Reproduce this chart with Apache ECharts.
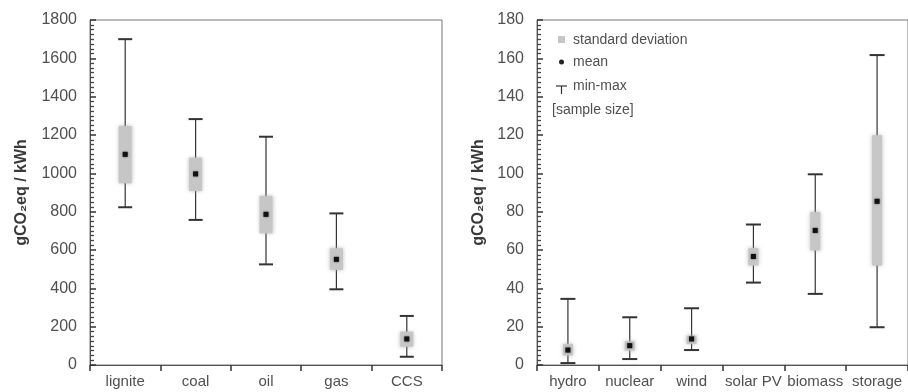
<!DOCTYPE html>
<html>
<head>
    <meta charset="utf-8">
    <title>Life cycle emissions</title>
    <script src="https://cdn.jsdelivr.net/npm/echarts@6/dist/echarts.min.js"></script>
</head>
<body style="margin:0;">
    <main id="main" style="height: 392px; width: 908px;"></main>
    <script>
        // fossil (left panel)
        var fossilCats = ['lignite', 'coal', 'oil', 'gas', 'CCS'];
        var fossilMin = [823, 757, 525, 395, 43];
        var fossilMax = [1700, 1283, 1191, 791, 256];
        var fossilSdLow = [948, 908, 687, 496, 96];
        var fossilSdHigh = [1247, 1082, 882, 609, 174];
        var fossilMean = [1099, 997, 786, 551, 136];

        // low carbon (right panel)
        var lowCats = ['hydro', 'nuclear', 'wind', 'solar PV', 'biomass', 'storage'];
        var lowMin = [1, 3.1, 7.8, 43, 37.1, 19.7];
        var lowMax = [34.5, 24.9, 29.6, 73.3, 99.5, 161.7];
        var lowSdLow = [5, 7.5, 11, 52, 59.8, 51.9];
        var lowSdHigh = [11, 12.4, 15.3, 61, 79.8, 119.9];
        var lowMean = [7.8, 10.1, 13.6, 56.6, 70.2, 85.4];

        var FONT = 'Liberation Sans, Arial, sans-serif';
        var AXIS_COLOR = '#555';
        var LABEL_COLOR = '#505050';

        function rows(cats, mn, mx, lo, hi, mean) {
            return cats.map(function (c, i) {
                return [i, mn[i], mx[i], lo[i], hi[i], mean[i]];
            });
        }

        function makeRender(capW, boxW) {
            return function (params, api) {
                var idx = api.value(0);
                var x = api.coord([idx, 0])[0];
                var yMin = api.coord([idx, api.value(1)])[1];
                var yMax = api.coord([idx, api.value(2)])[1];
                var yLo = api.coord([idx, api.value(3)])[1];
                var yHi = api.coord([idx, api.value(4)])[1];
                var yMean = api.coord([idx, api.value(5)])[1];
                var lineStyle = { stroke: '#333', lineWidth: 1.2 };
                var capStyle = { stroke: '#333', lineWidth: 2 };
                return {
                    type: 'group',
                    children: [
                        { type: 'line', shape: { x1: x, y1: yMin, x2: x, y2: yMax }, style: lineStyle },
                        { type: 'line', shape: { x1: x - capW / 2, y1: yMax, x2: x + capW / 2, y2: yMax }, style: capStyle },
                        { type: 'line', shape: { x1: x - capW / 2, y1: yMin, x2: x + capW / 2, y2: yMin }, style: capStyle },
                        {
                            type: 'rect',
                            shape: { x: x - boxW / 2, y: yHi, width: boxW, height: yLo - yHi },
                            style: { fill: '#c6c6c6', shadowBlur: 4, shadowColor: 'rgba(170,170,170,0.8)' }
                        },
                        {
                            type: 'rect',
                            shape: { x: x - 2.5, y: yMean - 2.5, width: 5, height: 5 },
                            style: { fill: '#111', shadowBlur: 2, shadowColor: 'rgba(0,0,0,0.6)' }
                        }
                    ]
                };
            };
        }

        function xAxisCfg(grid, cats) {
            return {
                type: 'category',
                gridIndex: grid,
                data: cats,
                boundaryGap: true,
                z: 5,
                axisLine: { lineStyle: { color: AXIS_COLOR, width: 1 } },
                axisTick: { show: true, length: 6, lineStyle: { color: '#333', width: 1.5 } },
                axisLabel: { color: LABEL_COLOR, fontSize: 15, fontFamily: FONT, margin: 9, interval: 0 },
                splitLine: { show: false }
            };
        }

        function yAxisCfg(grid, max, interval, gap) {
            return {
                type: 'value',
                gridIndex: grid,
                min: 0,
                max: max,
                interval: interval,
                z: 5,
                name: 'gCO\u2082eq / kWh',
                nameLocation: 'middle',
                nameGap: gap,
                nameTextStyle: { color: '#3a3a3a', fontSize: 16, fontWeight: 'bold', fontFamily: FONT },
                axisLine: { show: true, lineStyle: { color: AXIS_COLOR, width: 1 } },
                axisTick: { show: true, inside: true, length: 6, lineStyle: { color: '#333', width: 1.5 } },
                minorTick: { show: true, splitNumber: 8, length: 4, lineStyle: { color: '#444', width: 1.3 } },
                axisLabel: {
                    color: LABEL_COLOR, fontSize: 16, fontFamily: FONT, margin: 13,
                    formatter: function (v) { return String(v); }
                },
                splitLine: { show: false }
            };
        }

        var chart = echarts.init(document.getElementById('main'));
        var legendText = { fill: LABEL_COLOR, fontSize: 14, fontFamily: FONT, verticalAlign: 'middle' };

        var option = {
            animation: false,
            backgroundColor: '#fff',
            grid: [
                { left: 90, width: 352, top: 20, bottom: 27, show: true, borderColor: '#777', borderWidth: 1 },
                { left: 537, width: 374, top: 20, bottom: 27, show: true, borderColor: '#777', borderWidth: 1 }
            ],
            xAxis: [xAxisCfg(0, fossilCats), xAxisCfg(1, lowCats)],
            yAxis: [yAxisCfg(0, 1800, 200, 60), yAxisCfg(1, 180, 20, 50)],
            series: [
                {
                    type: 'custom',
                    xAxisIndex: 0,
                    yAxisIndex: 0,
                    renderItem: makeRender(14, 13),
                    encode: { x: 0, y: [1, 2, 3, 4, 5] },
                    data: rows(fossilCats, fossilMin, fossilMax, fossilSdLow, fossilSdHigh, fossilMean)
                },
                {
                    type: 'custom',
                    xAxisIndex: 1,
                    yAxisIndex: 1,
                    renderItem: makeRender(15, 10),
                    encode: { x: 0, y: [1, 2, 3, 4, 5] },
                    data: rows(lowCats, lowMin, lowMax, lowSdLow, lowSdHigh, lowMean)
                }
            ],
            graphic: [
                { type: 'rect', shape: { x: 558, y: 36, width: 7, height: 7 }, style: { fill: '#c6c6c6' } },
                { type: 'text', x: 573, y: 40, style: Object.assign({ text: 'standard deviation' }, legendText) },
                { type: 'circle', shape: { cx: 561.5, cy: 62, r: 2.5 }, style: { fill: '#222' } },
                { type: 'text', x: 573, y: 62, style: Object.assign({ text: 'mean' }, legendText) },
                { type: 'line', shape: { x1: 556, y1: 86, x2: 567, y2: 86 }, style: { stroke: '#333', lineWidth: 1.2 } },
                { type: 'line', shape: { x1: 561.5, y1: 86, x2: 561.5, y2: 94 }, style: { stroke: '#333', lineWidth: 1.2 } },
                { type: 'text', x: 573, y: 86, style: Object.assign({ text: 'min-max' }, legendText) },
                { type: 'text', x: 552, y: 110, style: Object.assign({ text: '[sample size]' }, legendText) }
            ]
        };

        chart.setOption(option);
    </script>
</body>
</html>
